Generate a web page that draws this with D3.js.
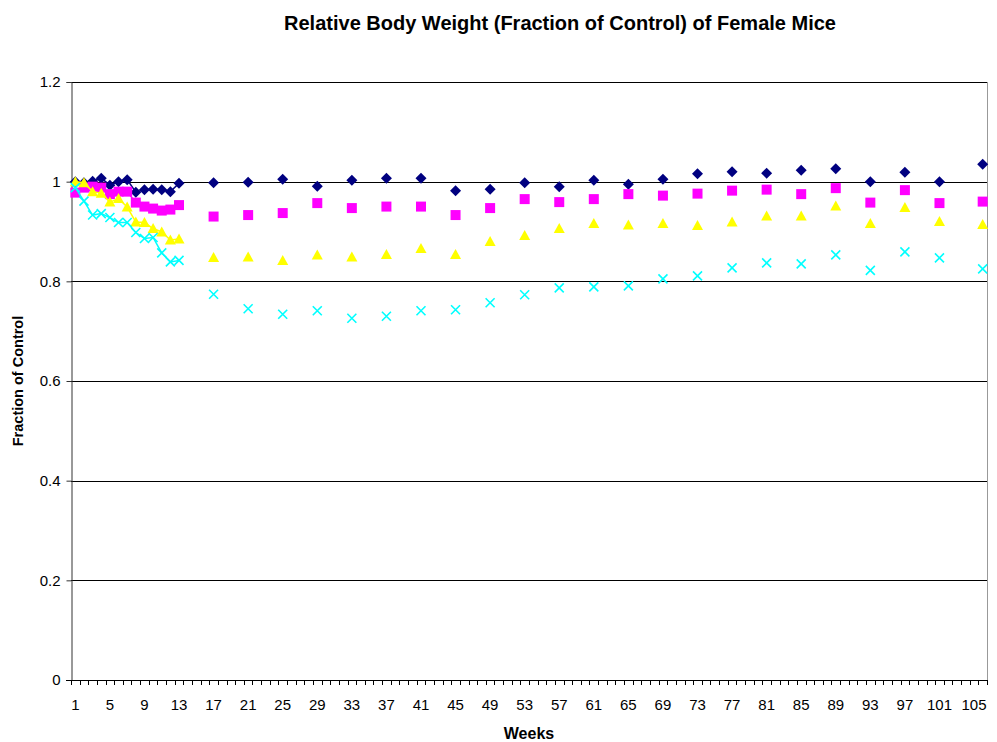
<!DOCTYPE html>
<html>
<head>
<meta charset="utf-8">
<script src="https://cdn.jsdelivr.net/npm/d3@7"></script>
<style>
  body { margin: 0; background: #fff; }
  text { font-family: "Liberation Sans", Arial, sans-serif; fill: #000; }
</style>
</head>
<body>
<script>
// weeks measured, and the four groups (fraction of control)
var weeks = [1,2,3,4,5,6,7,8,9,10,11,12,13,17,21,25,29,33,37,41,45,49,53,57,61,65,69,73,77,81,85,89,93,97,101,106];

var navy = [1.000,0.998,1.001,1.007,0.993,1.000,1.004,0.979,0.984,0.985,0.984,0.980,0.997,
  0.998,0.999,1.005,0.991,1.003,1.007,1.007,0.982,0.985,0.998,0.990,
  1.003,0.995,1.005,1.016,1.020,1.017,1.023,1.026,1.000,1.019,1.000,1.035];
var magenta = [0.978,0.988,0.990,0.988,0.975,0.980,0.980,0.958,0.950,0.946,0.942,0.944,0.953,
  0.930,0.933,0.937,0.957,0.947,0.950,0.950,0.933,0.947,0.965,0.959,
  0.965,0.975,0.972,0.976,0.982,0.984,0.975,0.987,0.958,0.983,0.957,0.960];
var yellow = [1.000,0.998,0.980,0.977,0.959,0.966,0.949,0.919,0.918,0.906,0.899,0.883,0.885,
  0.848,0.849,0.842,0.853,0.849,0.854,0.866,0.854,0.880,0.892,0.906,
  0.916,0.913,0.916,0.912,0.919,0.931,0.931,0.951,0.916,0.948,0.920,0.914];
var cyan = [0.988,0.961,0.933,0.936,0.928,0.918,0.918,0.898,0.886,0.888,0.857,0.839,0.842,
  0.774,0.745,0.734,0.741,0.726,0.730,0.741,0.743,0.757,0.773,0.787,
  0.789,0.791,0.805,0.811,0.827,0.837,0.835,0.853,0.822,0.859,0.847,0.825];

var yTicks = [0, 0.2, 0.4, 0.6, 0.8, 1, 1.2];
var xLabels = d3.range(1, 106, 4); // 1,5,9,...,105

var series = [
  {name: "navy", values: navy, color: "#000080", shape: "diamond"},
  {name: "magenta", values: magenta, color: "#ff00ff", shape: "square"},
  {name: "yellow", values: yellow, color: "#ffff00", shape: "triangle"},
  {name: "cyan", values: cyan, color: "#00ffff", shape: "cross"}
];

var width = 997, height = 742;
//plot area edges (note: "top" clashes with window.top, so prefixed)
var plotLeft = 71, plotRight = 987, plotTop = 82, plotBottom = 680;

var svg = d3.select("body").append("svg")
  .attr("width", width)
  .attr("height", height);

// category axis, one band per week 1..106
var x = d3.scaleBand()
  .domain(d3.range(1, 107))
  .range([plotLeft, plotRight]);
var xc = function(w){ return x(w) + x.bandwidth() / 2; };

var y = d3.scaleLinear()
  .domain([0, 1.2])
  .range([plotBottom, plotTop]);

//title
svg.append("text")
  .attr("x", 560).attr("y", 30)
  .attr("text-anchor", "middle")
  .style("font-size", "20px").style("font-weight", "bold")
  .text("Relative Body Weight (Fraction of Control) of Female Mice");

//gridlines
svg.append("g").selectAll("line")
  .data(yTicks.filter(function(d){ return d > 0; }))
  .enter().append("line")
  .attr("x1", plotLeft).attr("x2", plotRight)
  .attr("y1", function(d){ return Math.round(y(d)) + 0.5; })
  .attr("y2", function(d){ return Math.round(y(d)) + 0.5; })
  .attr("stroke", "#000").attr("stroke-width", 1);

// right border of plot
svg.append("line")
  .attr("x1", plotRight + 0.5).attr("x2", plotRight + 0.5)
  .attr("y1", plotTop).attr("y2", plotBottom)
  .attr("stroke", "#999");

//y axis
var yAxis = svg.append("g")
  .attr("transform", "translate(" + (plotLeft + 0.5) + ",0)")
  .call(d3.axisLeft(y).tickValues(yTicks).tickSize(5).tickPadding(6)
    .tickFormat(function(d){ return d3.format("")(d); }));
yAxis.attr("font-family", null).attr("font-size", null);
yAxis.select(".domain").attr("stroke", "#333");
yAxis.selectAll(".tick line").attr("stroke", "#333");
yAxis.selectAll("text").style("font-size", "15px").attr("fill", "#000");

//x axis: ticks at every category boundary
var bounds = d3.range(0, 107);
var xAxisG = svg.append("g");
xAxisG.append("line")
  .attr("x1", plotLeft - 5).attr("x2", plotRight + 1)
  .attr("y1", plotBottom + 0.5).attr("y2", plotBottom + 0.5)
  .attr("stroke", "#000");
xAxisG.selectAll(".xt")
  .data(bounds)
  .enter().append("line")
  .attr("class", "xt")
  .attr("x1", function(k){ return Math.round(plotLeft + k * x.step()) + 0.5; })
  .attr("x2", function(k){ return Math.round(plotLeft + k * x.step()) + 0.5; })
  .attr("y1", plotBottom).attr("y2", plotBottom + 5)
  .attr("stroke", "#000");
xAxisG.selectAll(".xl")
  .data(xLabels)
  .enter().append("text")
  .attr("class", "xl")
  .attr("x", function(d){ return xc(d); })
  .attr("y", plotBottom + 30)
  .attr("text-anchor", "middle")
  .style("font-size", "15px")
  .text(function(d){ return d; });

//axis titles
svg.append("text")
  .attr("x", 529).attr("y", 739)
  .attr("text-anchor", "middle")
  .style("font-size", "16px").style("font-weight", "bold")
  .text("Weeks");
svg.append("text")
  .attr("transform", "translate(23," + ((plotTop + plotBottom) / 2) + ") rotate(-90)")
  .attr("text-anchor", "middle")
  .style("font-size", "14.5px").style("font-weight", "bold")
  .text("Fraction of Control");

//lines only between consecutive weeks (gaps elsewhere)
var line = d3.line()
  .defined(function(d){ return d.v != null; })
  .x(function(d){ return xc(d.w); })
  .y(function(d){ return y(d.v); });

function fullSeries(vals){
  return d3.range(1, 107).map(function(w){
    var i = weeks.indexOf(w);
    return {w: w, v: i < 0 ? null : vals[i]};
  });
}

// excel style markers, about 10px across
var shapes = {
  diamond: "M0,-5.5L5.5,0L0,5.5L-5.5,0Z",
  square: "M-5,-5H5V5H-5Z",
  triangle: "M0,-5.5L5.5,4.5H-5.5Z",
  cross: "M-4.5,-4.5L4.5,4.5M-4.5,4.5L4.5,-4.5"
};

series.forEach(function(s){
  var g = svg.append("g").attr("class", "series " + s.name);
  // isolated points would draw nothing, so only the dense part shows a line
  g.append("path")
    .datum(fullSeries(s.values))
    .attr("d", line)
    .attr("fill", "none")
    .attr("stroke", s.color)
    .attr("stroke-width", 1.5);

  var isCross = s.shape == "cross";
  g.selectAll(".pt")
    .data(weeks.map(function(w, i){ return {w: w, v: s.values[i]}; }))
    .enter().append("path")
    .attr("class", "pt")
    .attr("transform", function(d){ return "translate(" + xc(d.w) + "," + y(d.v) + ")"; })
    .attr("d", shapes[s.shape])
    .attr("fill", isCross ? "none" : s.color)
    .attr("stroke", isCross ? s.color : "none")
    .attr("stroke-width", isCross ? 1.6 : 0);
});
</script>
</body>
</html>
